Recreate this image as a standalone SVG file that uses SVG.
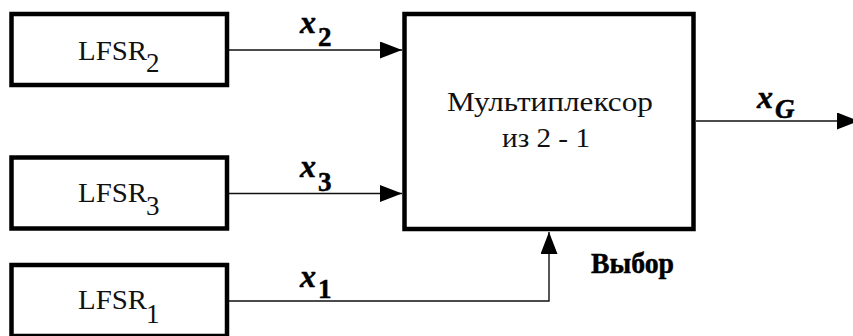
<svg xmlns="http://www.w3.org/2000/svg" width="853" height="336" viewBox="0 0 853 336">
<style>
.box{fill:#fff;stroke:#000;stroke-width:4.5}
.wire{fill:none;stroke:#111;stroke-width:1.4}
.t{font-family:"Liberation Serif",serif;font-size:28px;fill:#111}
.s{font-size:27px}
.b{font-family:"Liberation Serif",serif;font-weight:bold;fill:#000;stroke:#000;stroke-width:.5}
.x{font-style:italic;font-size:32px}
.n{font-size:27px}
</style>
<defs>
<marker id="a" markerUnits="userSpaceOnUse" markerWidth="22" markerHeight="17" refX="22" refY="8.5" orient="auto"><path d="M0 0L22 8.5L0 17Z" fill="#000"/></marker>
</defs>
<rect width="853" height="336" fill="#fff"/>
<g id="connectors">
<path class="wire" d="M229 50H402" marker-end="url(#a)"/>
<path class="wire" d="M229 193.500H402" marker-end="url(#a)"/>
<path class="wire" d="M229 301H549V232" marker-end="url(#a)"/>
<path class="wire" d="M696 121H859" marker-end="url(#a)"/>
</g>
<g id="lfsr2"><rect class="box" x="11.500" y="14" width="215.500" height="71"/>
<text class="t" x="78" y="60" textLength="69" lengthAdjust="spacingAndGlyphs">LFSR</text><text class="t s" x="146" y="72">2</text></g>
<g id="lfsr3"><rect class="box" x="11.500" y="157.500" width="215.500" height="71"/>
<text class="t" x="78" y="202" textLength="69" lengthAdjust="spacingAndGlyphs">LFSR</text><text class="t s" x="146" y="215">3</text></g>
<g id="lfsr1"><rect class="box" x="11.500" y="265" width="215.500" height="71"/>
<text class="t" x="78" y="309" textLength="69" lengthAdjust="spacingAndGlyphs">LFSR</text><text class="t s" x="146" y="323">1</text></g>
<g id="mux"><rect class="box" x="404.500" y="14" width="289" height="215"/>
<text class="t" x="447" y="111" textLength="206" lengthAdjust="spacingAndGlyphs">Мультиплексор</text>
<text class="t" x="502" y="147" textLength="88" lengthAdjust="spacingAndGlyphs">из 2 - 1</text></g>
<g id="labels">
<text class="b x" x="300" y="33">x</text><text class="b n" x="318" y="46">2</text>
<text class="b x" x="300" y="177">x</text><text class="b n" x="318" y="191">3</text>
<text class="b x" x="300" y="287">x</text><text class="b n" x="318" y="298">1</text>
<text class="b x" x="757" y="108">x</text><text class="b x" style="font-size:27px" x="775" y="118">G</text>
<text class="b" x="591" y="273" font-size="29" textLength="83" lengthAdjust="spacingAndGlyphs">Выбор</text>
</g>
</svg>
